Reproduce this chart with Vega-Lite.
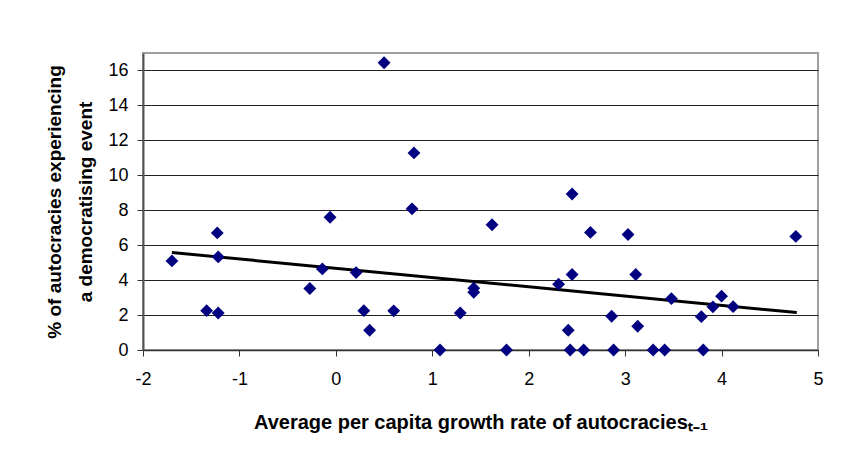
{
  "$schema": "https://vega.github.io/schema/vega-lite/v6.json",
  "autosize": "none",
  "width": 675,
  "height": 297,
  "padding": {"left": 143, "top": 53, "right": 23, "bottom": 114},
  "background": "white",
  "datasets": {
    "points": [
      {"growth": -1.70, "pct": 5.10},
      {"growth": -1.34, "pct": 2.25},
      {"growth": -1.23, "pct": 6.70},
      {"growth": -1.22, "pct": 5.33},
      {"growth": -1.22, "pct": 2.12},
      {"growth": -0.27, "pct": 3.52},
      {"growth": -0.14, "pct": 4.64},
      {"growth": -0.06, "pct": 7.60},
      {"growth": 0.21, "pct": 4.43},
      {"growth": 0.29, "pct": 2.25},
      {"growth": 0.35, "pct": 1.13},
      {"growth": 0.60, "pct": 2.24},
      {"growth": 0.50, "pct": 16.44},
      {"growth": 0.81, "pct": 11.28},
      {"growth": 0.79, "pct": 8.08},
      {"growth": 1.08, "pct": 0.0},
      {"growth": 1.29, "pct": 2.12},
      {"growth": 1.43, "pct": 3.54},
      {"growth": 1.43, "pct": 3.30},
      {"growth": 1.62, "pct": 7.17},
      {"growth": 1.77, "pct": 0.0},
      {"growth": 2.31, "pct": 3.77},
      {"growth": 2.45, "pct": 4.32},
      {"growth": 2.45, "pct": 8.93},
      {"growth": 2.41, "pct": 1.13},
      {"growth": 2.43, "pct": 0.0},
      {"growth": 2.57, "pct": 0.0},
      {"growth": 2.64, "pct": 6.73},
      {"growth": 2.86, "pct": 1.93},
      {"growth": 2.88, "pct": 0.0},
      {"growth": 3.03, "pct": 6.61},
      {"growth": 3.11, "pct": 4.32},
      {"growth": 3.13, "pct": 1.36},
      {"growth": 3.29, "pct": 0.0},
      {"growth": 3.41, "pct": 0.0},
      {"growth": 3.48, "pct": 2.94},
      {"growth": 3.79, "pct": 1.91},
      {"growth": 3.81, "pct": 0.0},
      {"growth": 3.91, "pct": 2.47},
      {"growth": 4.00, "pct": 3.08},
      {"growth": 4.12, "pct": 2.48},
      {"growth": 4.77, "pct": 6.50}
    ],
    "trend": [
      {"growth": -1.70, "pct": 5.58},
      {"growth": 4.78, "pct": 2.14}
    ]
  },
  "config": {
    "font": "Liberation Sans",
    "view": {"stroke": "#a0a0a0", "strokeWidth": 2}
  },
  "encoding": {
    "x": {
      "field": "growth",
      "type": "quantitative",
      "scale": {"domain": [-2, 5], "nice": false, "zero": false},
      "axis": {
        "title": "Average per capita growth rate of autocraciesₜ₋₁",
        "titleFont": "Liberation Sans",
        "titleFontSize": 20,
        "titleFontWeight": "bold",
        "titleColor": "black",
        "titlePadding": 24,
        "values": [-2, -1, 0, 1, 2, 3, 4, 5],
        "labelExpr": "datum.value < 0 ? '-' + abs(datum.value) : '' + datum.value",
        "grid": false,
        "domainColor": "#333",
        "domainWidth": 1.5,
        "tickColor": "#333",
        "tickSize": 6,
        "labelFontSize": 18,
        "labelColor": "black",
        "labelPadding": 14,
        "labelFlush": false,
        "labelOverlap": false
      }
    },
    "y": {
      "field": "pct",
      "type": "quantitative",
      "scale": {"domain": [0, 17], "nice": false},
      "axis": {
        "title": ["% of autocracies experiencing", "a democratising event"],
        "titleFont": "Liberation Sans",
        "titleFontSize": 19,
        "titleFontWeight": "bold",
        "titleColor": "black",
        "titlePadding": 12,
        "titleLineHeight": 31,
        "values": [0, 2, 4, 6, 8, 10, 12, 14, 16],
        "grid": true,
        "gridColor": "#222",
        "gridWidth": 1,
        "domainColor": "#555",
        "domainWidth": 2,
        "tickColor": "#333",
        "tickSize": 6,
        "labelFontSize": 18,
        "labelColor": "black",
        "labelPadding": 9,
        "labelOverlap": false
      }
    }
  },
  "layer": [
    {
      "data": {"name": "trend"},
      "mark": {"type": "line", "color": "black", "strokeWidth": 3, "clip": true}
    },
    {
      "data": {"name": "points"},
      "mark": {"type": "point", "shape": "diamond", "filled": true, "color": "#000080", "opacity": 1, "size": 165}
    }
  ]
}
